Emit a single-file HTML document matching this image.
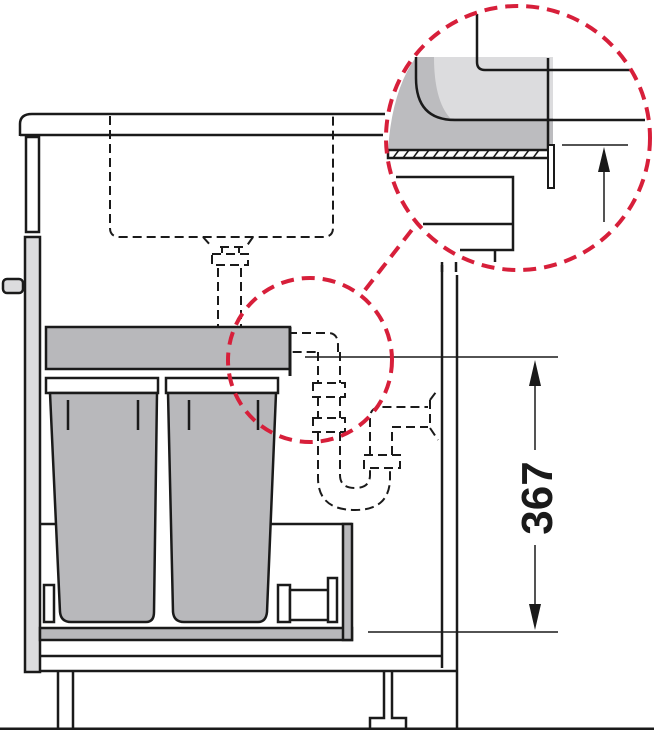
<!DOCTYPE html>
<html><head><meta charset="utf-8"><style>
html,body{margin:0;padding:0;background:#fff;}
svg{display:block;}
</style></head><body>
<svg width="654" height="730" viewBox="0 0 654 730" xmlns="http://www.w3.org/2000/svg" fill="none" stroke="#1a1a1a" stroke-width="2.5">
<!-- countertop -->
<path d="M20,136 L20,124 Q20,114 32,114 L385,114" />
<line x1="20" y1="135" x2="383" y2="135"/>
<!-- left panel -->
<rect x="26" y="137" width="13" height="95" fill="#fff"/>
<rect x="25" y="237" width="15" height="435" fill="#dcdcde"/>
<rect x="3" y="279" width="20" height="14" rx="4" fill="#dcdcde"/>
<!-- sink dashed -->
<g stroke-dasharray="9,5" stroke-width="2">
<path d="M110,116 L110,228 Q110,237 120,237 L323,237 Q333,237 333,228 L333,116"/>
<path d="M203,237 L212,247 M253,237 L246,247 M220,247 L244,247 M222,247 V253 M239,247 V253 M212,254 H248 V265 H212 Z"/>
<path d="M218,268 V340 Q218,352 230,352 H318 M241,268 V333 H328 Q338,333 338,345 V352"/>
<path d="M318,352 V383 M340,352 V383 M313,383 H345 V397 H313 Z M318,397 V418 M340,397 V418 M313,418 H345 V432 H313 Z"/>
<path d="M318,432 V478 Q318,510 355,510 Q390,510 390,478 V468 M340,432 V475 Q340,488 355,488 Q370,488 370,475 V468"/>
<path d="M364,455 H400 V468 H364 Z M370,455 V418 Q370,407 382,407 H428 M392,455 V427 H428 M430,400 V428 M430,400 L436,392 M430,428 L438,440"/>
</g>
<!-- right cabinet side -->
<line x1="442" y1="265" x2="442" y2="668"/>
<line x1="457" y1="275" x2="457" y2="730"/>
<!-- drawer top -->
<rect x="46" y="327" width="244" height="42" fill="#b8b8bb"/>
<line x1="290" y1="327" x2="290" y2="376" stroke-width="3"/>
<!-- bins -->
<rect x="46" y="378" width="112" height="15" fill="#fff"/>
<rect x="166" y="378" width="112" height="15" fill="#fff"/>
<path d="M50,393 L60,612 Q61,622 71,622 L146,622 Q154,622 154,612 L157,393 Z" fill="#b8b8bb"/>
<path d="M168,393 L173,612 Q174,622 184,622 L258,622 Q266,622 267,612 L276,393 Z" fill="#b8b8bb"/>
<line x1="68" y1="400" x2="68" y2="430"/><line x1="138" y1="400" x2="138" y2="430"/>
<line x1="189" y1="400" x2="189" y2="430"/><line x1="258" y1="400" x2="258" y2="430"/>
<!-- tray -->
<path d="M40,524 H55 M270,524 H352"/>
<rect x="40" y="628" width="312" height="12" fill="#b8b8bb"/>
<rect x="343" y="524" width="9" height="116" fill="#b8b8bb"/>
<rect x="44" y="585" width="10" height="37" fill="#fff"/>
<rect x="278" y="585" width="12" height="37" fill="#fff"/>
<rect x="290" y="590" width="40" height="30" fill="#fff"/>
<rect x="328" y="578" width="9" height="44" fill="#fff"/>
<!-- plinth -->
<line x1="40" y1="656" x2="442" y2="656"/>
<line x1="40" y1="671" x2="457" y2="671"/>
<line x1="58" y1="672" x2="58" y2="728"/><line x1="73" y1="672" x2="73" y2="728"/>
<path d="M384,672 V718 H370 V728 M392,672 V718 H406 V728"/>
<line x1="0" y1="729" x2="654" y2="729" stroke-width="3"/>
<!-- dimension -->
<g stroke-width="1.5">
<line x1="305" y1="357" x2="558" y2="357"/>
<line x1="368" y1="632" x2="558" y2="632"/>
<line x1="535" y1="385" x2="535" y2="450"/>
<line x1="535" y1="545" x2="535" y2="605"/>
</g>
<path d="M535,360 L529,386 L541,386 Z M535,630 L529,604 L541,604 Z" fill="#1a1a1a" stroke="none"/>
<text x="0" y="0" transform="translate(552,498) rotate(-90)" text-anchor="middle" font-family="Liberation Sans, sans-serif" font-weight="bold" font-size="44" fill="#1a1a1a" stroke="none">367</text>
<!-- magnifier content -->
<path d="M416,57 L553,57 L553,150 L388,150 Q392,90 416,57 Z" fill="#bcbcbf" stroke="none"/>
<path d="M434,57 L553,57 L553,118 L450,118 Q434,100 434,57 Z" fill="#dcdcde" stroke="none"/>
<path d="M477,14 V62 Q477,70 485,70 H630 M548,58 V150"/>
<path d="M416,57 V78 Q416,120 455,120 H645"/>
<rect x="388" y="150" width="162" height="8" fill="#fff"/>
<path d="M393,158 l6,-8 M403,158 l6,-8 M413,158 l6,-8 M423,158 l6,-8 M433,158 l6,-8 M443,158 l6,-8 M453,158 l6,-8 M463,158 l6,-8 M473,158 l6,-8 M483,158 l6,-8 M493,158 l6,-8 M503,158 l6,-8 M513,158 l6,-8 M523,158 l6,-8 M533,158 l6,-8" stroke-width="1.5"/>
<rect x="548" y="145" width="6" height="43" fill="#fff" stroke-width="2"/>
<line x1="562" y1="145" x2="628" y2="145" stroke-width="1.5"/>
<line x1="604" y1="170" x2="604" y2="222" stroke-width="1.5"/>
<path d="M604,147 L598,172 L610,172 Z" fill="#1a1a1a" stroke="none"/>
<path d="M396,177 H513 V224 H423 M513,224 V250 H460 M495,250 V262 M442,262 V272 M456,262 V272"/>
<!-- red magnifier circles -->
<g stroke="#d71f3a" stroke-width="4" stroke-dasharray="13,8">
<circle cx="518" cy="138" r="132"/>
<circle cx="310" cy="360" r="82"/>
<line x1="365" y1="290" x2="418" y2="222"/>
</g>
</svg>
</body></html>
